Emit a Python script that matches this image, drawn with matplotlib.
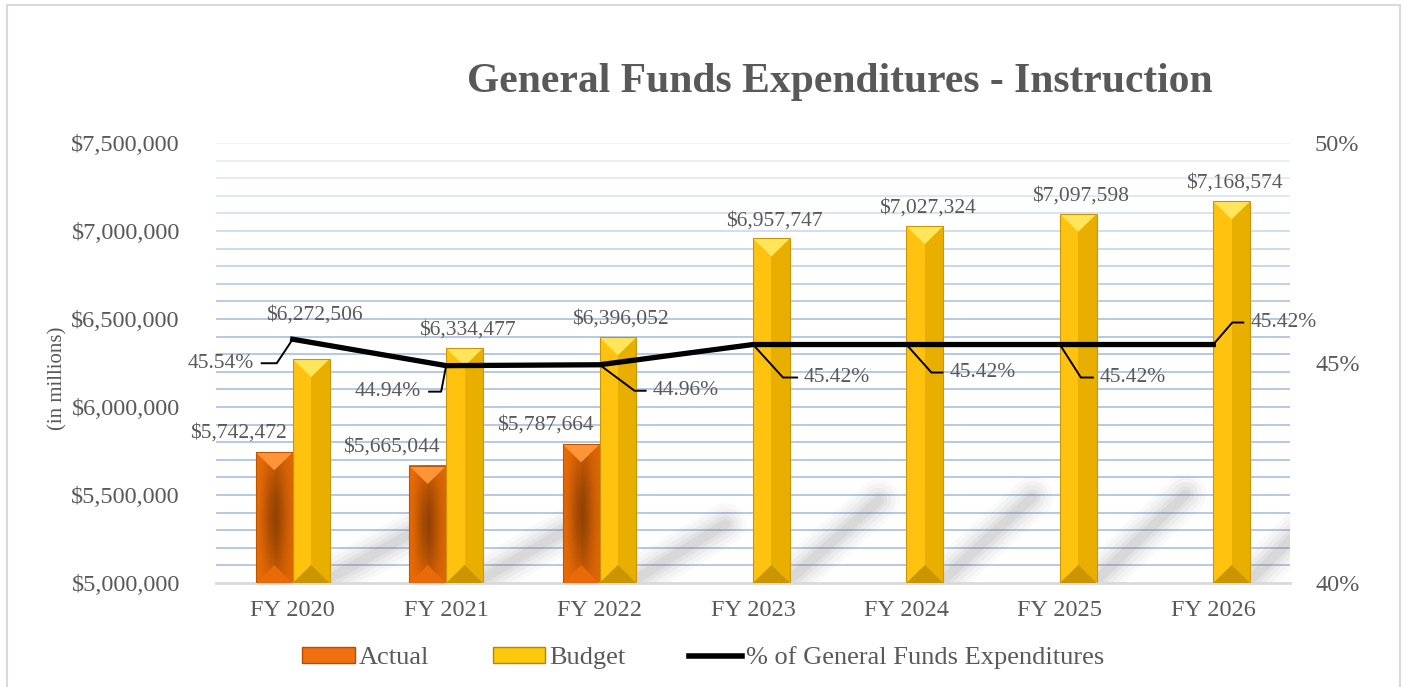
import numpy as np
import matplotlib
matplotlib.use("Agg")
import matplotlib.pyplot as plt
import matplotlib.patches as mpatches
import matplotlib.lines as mlines
from matplotlib.ticker import FuncFormatter, MultipleLocator

plt.rcParams['font.family'] = ['Liberation Serif', 'DejaVu Serif']

years = ["FY 2020", "FY 2021", "FY 2022", "FY 2023", "FY 2024", "FY 2025", "FY 2026"]
actual = [5742472, 5665044, 5787664, None, None, None, None]
budget = [6272506, 6334477, 6396052, 6957747, 7027324, 7097598, 7168574]
pct = [45.54, 44.94, 44.96, 45.42, 45.42, 45.42, 45.42]

GREY = '#595959'
BASE = 5000000

fig = plt.figure(figsize=(14.03, 6.87), dpi=100)
ax = fig.add_axes([216/1403, 1-583/687, (1290-216)/1403, (583-143)/687])
ax2 = ax.twinx()

ax.set_xlim(0, len(years))
ax.set_ylim(BASE, 7500000)
ax2.set_ylim(40, 50)

# px -> data helper (y only)
def dy_px(px):
    return px * (ax.get_ylim()[1] - ax.get_ylim()[0]) / ax.bbox.height

# gridlines (fade toward the top)
for v in range(5100000, 7500001, 100000):
    a = np.clip(1.0 - (v - 6500000) / 1000000 * 0.8, 0.2, 1.0)
    ax.axhline(v, color='#aec2e2', lw=1.4, alpha=a * 0.9, zorder=0)

W = 0.24
centers = np.arange(len(years)) + 0.5

# soft shadows behind the budget bars
for c, b in zip(centers, budget):
    x0 = c + W + 0.02
    y0 = BASE + dy_px(6)
    x1 = c + W + 0.58
    y1 = BASE + (b - BASE) * 0.24
    for lw, al in [(30, 0.035), (24, 0.045), (18, 0.06), (12, 0.07), (7, 0.08)]:
        ax.plot([x0, x1], [y0, y1], color='#6f6f6f', lw=lw, alpha=al,
                solid_capstyle='round', zorder=1)

def bevel(x0, top, light, dark, tri_top, tri_bot, edge):
    h = top - BASE
    d = dy_px(18)
    ax.add_patch(mpatches.Rectangle((x0, BASE), W, h, fc=dark, ec='none', zorder=2))
    ax.add_patch(mpatches.Rectangle((x0, BASE), W/2, h, fc=light, ec='none', zorder=2))
    ax.add_patch(mpatches.Polygon([(x0, top), (x0+W, top), (x0+W/2, top-d)],
                                  fc=tri_top, ec='none', zorder=3))
    ax.add_patch(mpatches.Polygon([(x0, BASE), (x0+W, BASE), (x0+W/2, BASE+d)],
                                  fc=tri_bot, ec='none', zorder=3))
    ax.add_patch(mpatches.Rectangle((x0, BASE), W, h, fc='none', ec=edge, lw=0.8, zorder=4))

def actual_bar(x0, top):
    h = top - BASE
    ny, nx = 120, 40
    yy, xx = np.mgrid[0:1:ny*1j, 0:1:nx*1j]
    f = np.exp(-((xx-0.5)/0.32)**2 - ((yy-0.5)/0.45)**2) * 0.75
    c1 = np.array([0.93, 0.43, 0.02])
    c2 = np.array([0.50, 0.22, 0.02])
    img = c1[None, None, :] * (1-f[..., None]) + c2[None, None, :] * f[..., None]
    img[:, nx//2:, :] *= 0.95
    ax.imshow(img, extent=(x0, x0+W, BASE, top), origin='lower', aspect='auto',
              zorder=2, interpolation='bilinear')
    d = dy_px(18)
    ax.add_patch(mpatches.Polygon([(x0, top), (x0+W, top), (x0+W/2, top-d)],
                                  fc='#ff9438', ec='none', zorder=3))
    ax.add_patch(mpatches.Polygon([(x0, BASE), (x0+W, BASE), (x0+W/2, BASE+d)],
                                  fc='#e86a08', ec='none', zorder=3))
    ax.add_patch(mpatches.Rectangle((x0, BASE), W, h, fc='none', ec='#c05500', lw=0.8, zorder=4))

for i, c in enumerate(centers):
    if actual[i] is not None:
        actual_bar(c - W, actual[i])
        ax.annotate(f"${actual[i]:,}", (c - W/2, actual[i]), xytext=(-26, 7),
                    textcoords='offset points', ha='center', va='bottom',
                    fontsize=15.5, color=GREY, zorder=6)
    bevel(c, budget[i], '#ffc30f', '#e8ae00', '#ffe55a', '#c99500', '#c8960a')
    off = 25 if i == 0 else 6
    ax.annotate(f"${budget[i]:,}", (c + W/2, budget[i]), xytext=(2, off),
                textcoords='offset points', ha='center', va='bottom',
                fontsize=15.5, color=GREY, zorder=6)

ax.set_xlim(0, len(years))
ax.set_ylim(BASE, 7500000)

# percent line
ax2.plot(centers, pct, color='black', lw=3.8, zorder=5, solid_joinstyle='miter')

# leader offsets in pixels: (corner dx, dy, end dx, label dx)
leaders = [(-16, -24, -31, -39), (-5, -26, -17, -25), (35, -26, 46, 53),
           (30, -33, 44, 51), (25, -28, 36, 43), (21, -33, 33, 40), (19, 22, 30, 37)]

def p2d(x, y, dxp, dyp):
    p = ax2.transData.transform((x, y))
    return ax2.transData.inverted().transform((p[0] + dxp, p[1] + dyp))

for c, p, (cx, cy, ex, lx) in zip(centers, pct, leaders):
    b = p2d(c, p, cx, cy)
    e = p2d(c, p, ex, cy)
    t = p2d(c, p, lx, cy)
    ax2.plot([c, b[0], e[0]], [p, b[1], e[1]], color='black', lw=1.4, zorder=5)
    ax2.text(t[0], t[1], f"{p:.2f}%", ha='right' if lx < 0 else 'left', va='center',
             fontsize=15.5, color=GREY, zorder=6)

# axes styling
ax.set_xticks(centers)
ax.set_xticklabels(years, fontsize=17.5, color=GREY)
ax.yaxis.set_major_locator(MultipleLocator(500000))
ax.yaxis.set_major_formatter(FuncFormatter(lambda v, _: f"${v:,.0f}"))
ax.tick_params(axis='y', length=0, pad=26, labelsize=17.5, labelcolor=GREY)
ax.tick_params(axis='x', length=0, pad=12)
ax2.set_yticks([40, 45, 50])
ax2.yaxis.set_major_formatter(FuncFormatter(lambda v, _: f"{v:.0f}%"))
ax2.tick_params(axis='y', length=0, pad=18, labelsize=17.5, labelcolor=GREY)
for s in ['top', 'left', 'right']:
    ax.spines[s].set_visible(False)
    ax2.spines[s].set_visible(False)
ax.spines['bottom'].set_color('#d9d9d9')
ax.spines['bottom'].set_linewidth(2)
ax2.spines['bottom'].set_visible(False)

fig.text(58/1403, 1-378/687, "(in millions)", rotation=90, ha='center', va='center',
         fontsize=15, color=GREY)
fig.text(840/1403, 1-82/687, "General Funds Expenditures - Instruction", ha='center',
         va='center', fontsize=30, fontweight='bold', color=GREY)

# outer border
fig.add_artist(mpatches.Rectangle((7/1403, -0.01), 1393/1403, 1.01 - 5/687,
                                  transform=fig.transFigure, fc='none', ec='#d9d9d9', lw=1.5))

handles = [mpatches.Patch(fc='#f07010', ec='#b05000', label='Actual'),
           mpatches.Patch(fc='#ffc80a', ec='#b08800', label='Budget'),
           mlines.Line2D([], [], color='black', lw=4, label='% of General Funds Expenditures')]
fig.legend(handles=handles, loc='center', bbox_to_anchor=(703/1403, 1-658/687), ncol=3,
           frameon=False, fontsize=19, handlelength=2.0, handleheight=0.55,
           handletextpad=0.15, columnspacing=2.4, labelcolor=GREY)

fig.savefig("out.png", dpi=100)
